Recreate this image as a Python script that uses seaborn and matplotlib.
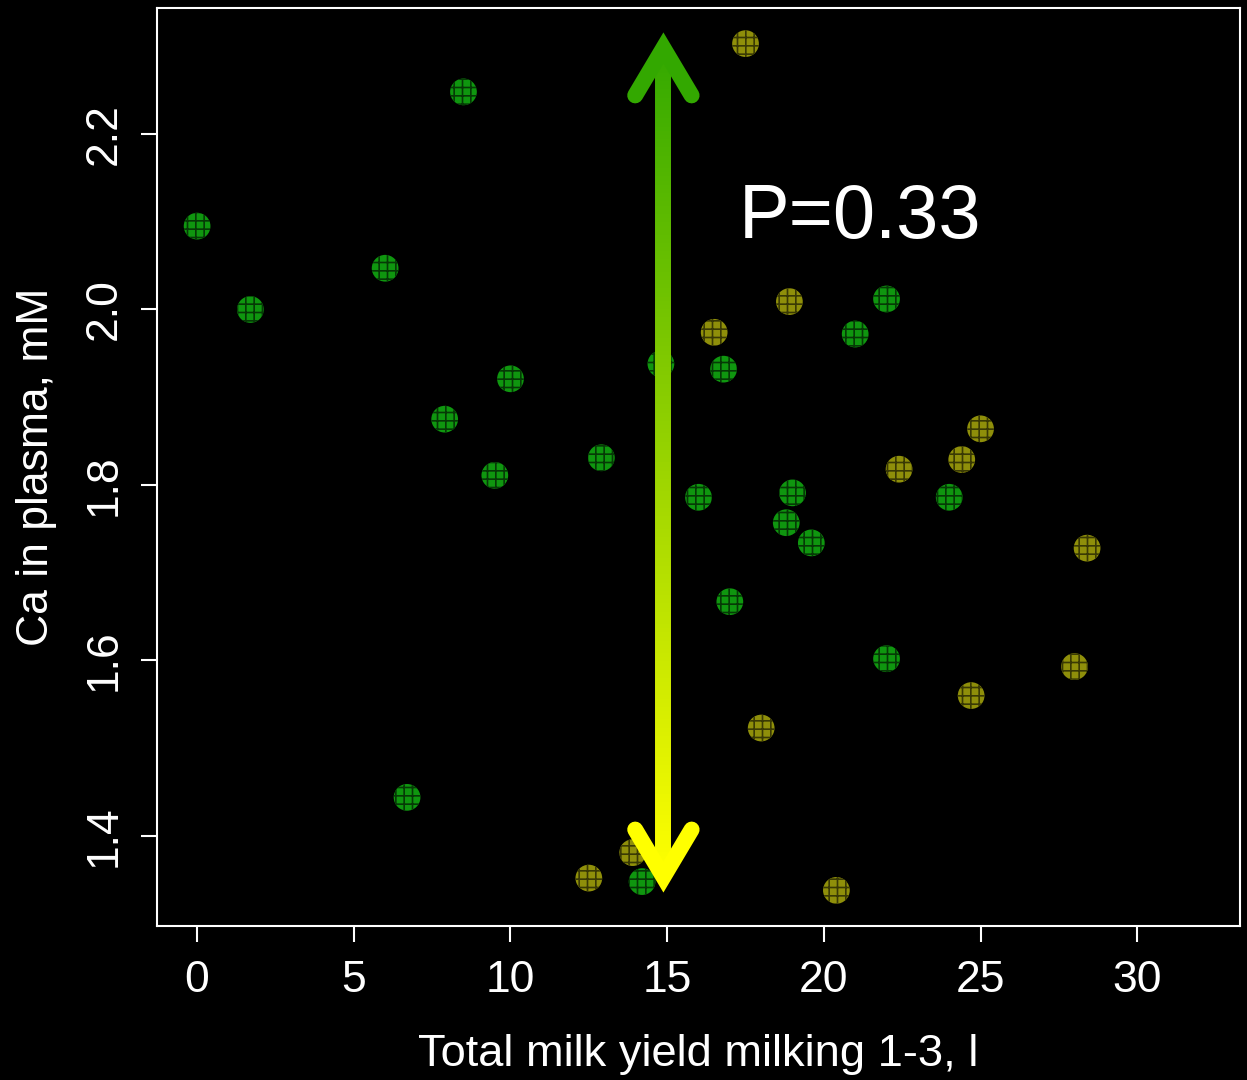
import numpy as np
import pandas as pd
import matplotlib
matplotlib.use("Agg")
import matplotlib.pyplot as plt
from matplotlib.collections import LineCollection
import seaborn as sns

# ---- data ----
green_x = [0.0, 1.7, 8.5, 6.0, 7.9, 10.0, 9.5, 12.9, 6.7, 14.8, 16.8, 16.0,
           22.0, 21.0, 19.0, 18.8, 19.6, 17.0, 22.0, 24.0, 14.2]
green_y = [2.095, 2.000, 2.248, 2.047, 1.875, 1.921, 1.811, 1.831, 1.444, 1.938,
           1.932, 1.786, 2.012, 1.972, 1.791, 1.757, 1.734, 1.667, 1.602, 1.786, 1.348]
yellow_x = [17.5, 16.5, 18.9, 25.0, 24.4, 22.4, 28.4, 28.0, 24.7, 18.0, 12.5, 13.9, 20.4]
yellow_y = [2.303, 1.974, 2.009, 1.864, 1.829, 1.818, 1.728, 1.593, 1.560, 1.523,
            1.352, 1.381, 1.338]
x_ticks = [0, 5, 10, 15, 20, 25, 30]
y_ticks = [1.4, 1.6, 1.8, 2.0, 2.2]
x_label = "Total milk yield milking 1-3, l"
y_label = "Ca in plasma, mM"
p_text = "P=0.33"

df = pd.DataFrame({
    "x": green_x + yellow_x,
    "y": green_y + yellow_y,
    "grp": ["g"] * len(green_x) + ["y"] * len(yellow_x),
})

sns.set_theme(style="ticks")
plt.rcParams["font.family"] = ["Liberation Sans", "DejaVu Sans"]
plt.rcParams["hatch.linewidth"] = 1.2

fig = plt.figure(figsize=(12.47, 10.8), dpi=100, facecolor="black")
ax = fig.add_axes([0.1259, 0.1426, 0.8685, 0.85])
ax.set_facecolor("black")

pal = {"g": "#0f960f", "y": "#8f8f0a"}
hatch_col = {"g": "#063a06", "y": "#3a3a04"}
for g in ["g", "y"]:
    sub = df[df.grp == g]
    sns.scatterplot(data=sub, x="x", y="y", ax=ax, color=pal[g], s=370,
                    edgecolor=hatch_col[g], linewidth=0, hatch="++", legend=False,
                    zorder=2)

# gradient double arrow (annotation)
ax_x = 14.88
y_top, y_bot = 2.298, 1.3533
n = 200
ys = np.linspace(y_top, y_bot, n + 1)
c_top = np.array([0.2, 0.66, 0.0])
c_bot = np.array([1.0, 1.0, 0.0])
segs = [[(ax_x, ys[i]), (ax_x, ys[i + 1])] for i in range(n)]
cols = [c_top + (c_bot - c_top) * (i / (n - 1)) for i in range(n)]
shaft = LineCollection(segs, colors=cols, linewidths=11.5, capstyle="butt", zorder=3)
ax.add_collection(shaft)
dx, dy = 0.9, 0.054
ax.plot([ax_x - dx, ax_x, ax_x + dx], [y_top - dy, y_top, y_top - dy],
        color=c_top, lw=11.5, solid_capstyle="round", solid_joinstyle="miter", zorder=3)
ax.plot([ax_x - dx, ax_x, ax_x + dx], [y_bot + dy, y_bot, y_bot + dy],
        color=c_bot, lw=11.5, solid_capstyle="round", solid_joinstyle="miter", zorder=3)

ax.text(17.28, 2.081, p_text, color="white", fontsize=54.5, ha="left", va="baseline")

ax.set_xlim(-1.28, 33.28)
ax.set_ylim(1.2974, 2.3436)
ax.set_xticks(x_ticks)
ax.set_xticklabels([str(t) for t in x_ticks])
ax.set_yticks(y_ticks)
ax.set_yticklabels([f"{t:.1f}" for t in y_ticks], rotation=90, va="center")
ax.tick_params(colors="white", labelcolor="white", labelsize=32, length=11.5,
               width=1.5, direction="out")
ax.tick_params(axis="x", pad=13)
ax.tick_params(axis="y", pad=12)
for sp in ax.spines.values():
    sp.set_color("white")
    sp.set_linewidth(1.5)
    sp.set_visible(True)
ax.set_xlabel(x_label, color="white", fontsize=32.6, labelpad=24)
ax.set_ylabel(y_label, color="white", fontsize=32, labelpad=19)

fig.savefig("out.png", dpi=100, facecolor="black")
